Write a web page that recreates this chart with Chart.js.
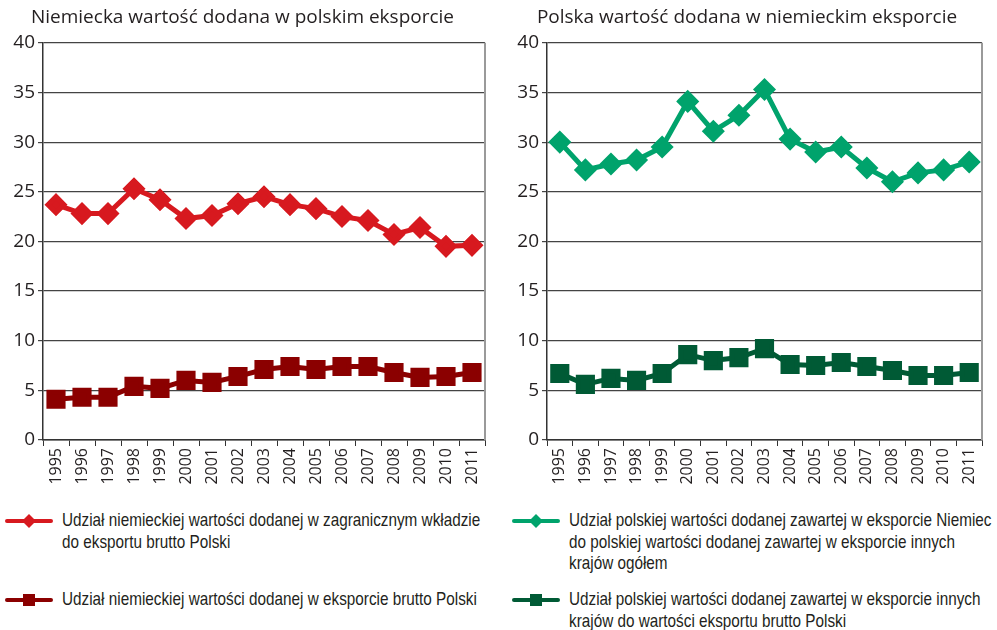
<!DOCTYPE html>
<html>
<head>
<meta charset="utf-8">
<script src="https://cdn.jsdelivr.net/npm/chart.js@4.4.1/dist/chart.umd.min.js"></script>
<style>
  body { margin: 0; background: #fff; width: 997px; height: 630px; position: relative; overflow: hidden; }
  .box { position: absolute; top: 0; height: 490px; }
  .legend { position: absolute; font-family: "Liberation Sans", Arial, sans-serif;
            font-size: 19px; line-height: 21.5px; color: #231f20; }
  .legend .item { position: absolute; left: 0; white-space: nowrap; }
  .legend svg { position: absolute; left: 0; top: 2px; }
  .legend .txt { position: absolute; left: 57px; top: 0; transform: scaleX(0.805); transform-origin: 0 0; }
</style>
</head>
<body>
<div class="box" style="left:0;width:500px"><canvas id="left"></canvas></div>
<div class="box" style="left:504px;width:493px"><canvas id="right"></canvas></div>

<div class="legend" style="left:5px;top:509px">
  <div class="item" style="top:0">
    <svg width="50" height="20"><line x1="2" y1="10" x2="46" y2="10" stroke="#d7191f" stroke-width="4" stroke-linecap="round"/><polygon points="24,3 31,10 24,17 17,10" fill="#d7191f"/></svg>
    <div class="txt">Udział niemieckiej wartości dodanej w zagranicznym wkładzie<br>do eksportu brutto Polski</div>
  </div>
  <div class="item" style="top:79px">
    <svg width="50" height="20"><line x1="2" y1="10" x2="46" y2="10" stroke="#8b0000" stroke-width="4" stroke-linecap="round"/><rect x="18" y="4" width="12" height="12" fill="#8b0000"/></svg>
    <div class="txt">Udział niemieckiej wartości dodanej w eksporcie brutto Polski</div>
  </div>
</div>

<div class="legend" style="left:512px;top:509px">
  <div class="item" style="top:0">
    <svg width="50" height="20"><line x1="2" y1="10" x2="46" y2="10" stroke="#00a36c" stroke-width="4" stroke-linecap="round"/><polygon points="24,3 31,10 24,17 17,10" fill="#00a36c"/></svg>
    <div class="txt">Udział polskiej wartości dodanej zawartej w eksporcie Niemiec<br>do polskiej wartości dodanej zawartej w eksporcie innych<br>krajów ogółem</div>
  </div>
  <div class="item" style="top:79px">
    <svg width="50" height="20"><line x1="2" y1="10" x2="46" y2="10" stroke="#005a35" stroke-width="4" stroke-linecap="round"/><rect x="18" y="4" width="12" height="12" fill="#005a35"/></svg>
    <div class="txt">Udział polskiej wartości dodanej zawartej w eksporcie innych<br>krajów do wartości eksportu brutto Polski</div>
  </div>
</div>

<script>
var years = ["1995","1996","1997","1998","1999","2000","2001","2002","2003","2004","2005","2006","2007","2008","2009","2010","2011"];

// left chart
var deInPlForeign = [23.7,22.8,22.8,25.3,24.2,22.3,22.6,23.8,24.5,23.7,23.3,22.5,22.1,20.7,21.4,19.5,19.6];
var deInPlGross = [4.1,4.3,4.3,5.4,5.2,6.0,5.8,6.4,7.1,7.4,7.1,7.4,7.4,6.8,6.3,6.4,6.8];

// right chart
var plInDeShare = [30.0,27.2,27.8,28.2,29.5,34.1,31.1,32.7,35.3,30.3,29.0,29.5,27.4,26.0,26.9,27.2,28.0];
var plInOthersGross = [6.7,5.6,6.2,6.0,6.7,8.6,8.0,8.3,9.2,7.6,7.5,7.8,7.4,7.0,6.5,6.5,6.8];

var yTicks = [0,5,10,15,20,25,30,35,40];

var fontMain = "'Open Sans', 'Noto Sans', sans-serif";
var textColor = "#231f20";

// grey right frame of the plot area
var rightFrame = {
    id: 'rightFrame',
    afterDraw: function(chart){
        var a = chart.chartArea, ctx = chart.ctx;
        ctx.save();
        ctx.strokeStyle = "#9a9a9a";
        ctx.lineWidth = 2;
        ctx.beginPath();
        ctx.moveTo(a.right, a.top);
        ctx.lineTo(a.right, a.bottom);
        ctx.stroke();
        ctx.restore();
    }
};

function makeChart(id, title, s1, c1, s2, c2, padRight){
    var ctx = document.getElementById(id).getContext('2d');
    return new Chart(ctx, {
        type: 'line',
        data: {
            labels: years,
            datasets: [{
                data: s1,
                borderColor: c1,
                backgroundColor: c1,
                borderWidth: 5,
                pointStyle: 'rectRot',
                pointRadius: 8,
                pointHoverRadius: 8,
                tension: 0
            }, {
                data: s2,
                borderColor: c2,
                backgroundColor: c2,
                borderWidth: 5,
                pointStyle: 'rect',
                pointRadius: 10,
                pointHoverRadius: 10,
                tension: 0
            }]
        },
        options: {
            responsive: true,
            maintainAspectRatio: false,
            animation: false,
            layout: { padding: { left: 0, right: padRight, top: 0, bottom: 0 } },
            plugins: {
                legend: { display: false },
                tooltip: { enabled: false },
                title: {
                    display: true,
                    text: title,
                    color: textColor,
                    font: { family: fontMain, size: 19, weight: 'normal' },
                    padding: { top: 6, bottom: 14 }
                }
            },
            scales: {
                x: {
                    offset: true,
                    grid: { offset: true, drawOnChartArea: false, color: "#333", tickLength: 6, tickColor: "#333" },
                    border: { color: "#333", width: 1.5 },
                    ticks: { color: textColor, maxRotation: 90, minRotation: 90, autoSkip: false,
                             font: { family: fontMain, size: 16 }, padding: 2 },
                    afterFit: function(s){ s.height = 50; }
                },
                y: {
                    min: 0,
                    max: 40,
                    afterBuildTicks: function(s){ s.ticks = yTicks.map(function(v){ return {value: v}; }); },
                    grid: { color: "#444", lineWidth: 1.2, tickLength: 5, tickColor: "#444" },
                    border: { color: "#333", width: 1.5 },
                    ticks: { color: textColor, font: { family: fontMain, size: 19 }, padding: 3 },
                    afterFit: function(s){ s.width = 43; }
                }
            }
        },
        plugins: [rightFrame]
    });
}

makeChart('left', 'Niemiecka wartość dodana w polskim eksporcie', deInPlForeign, "#d7191f", deInPlGross, "#8b0000", 15);
makeChart('right', 'Polska wartość dodana w niemieckim eksporcie', plInDeShare, "#00a36c", plInOthersGross, "#005a35", 7);
</script>
</body>
</html>
